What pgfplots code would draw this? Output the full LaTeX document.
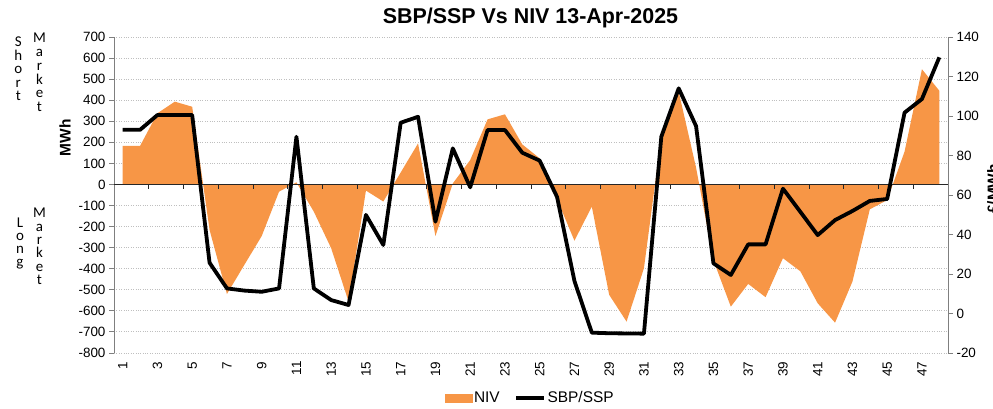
\documentclass[border=0pt]{standalone}
\usepackage{fontspec}
\setmainfont{Liberation Sans}
\newfontfamily\calfont{Carlito}
\usepackage{pgfplots}
\pgfplotsset{compat=1.18}
\definecolor{niv}{HTML}{F79646}
\definecolor{gridc}{HTML}{BFBFBF}
\definecolor{axc}{HTML}{7F7F7F}
\begin{document}
\begin{tikzpicture}[x=1bp,y=1bp]
\pgfplotsset{
  common/.style={
    scale only axis, width=834bp, height=316bp,
    at={(114bp,56bp)}, anchor=south west,
    xmin=0.5, xmax=48.5,
    tick align=outside, major tick length=5bp,
    /pgf/number format/assume math mode=true,
    ticklabel style={font=\fontsize{13.5}{15}\selectfont},
  }
}
\begin{axis}[common,
  ymin=-800, ymax=700,
  ytick={-800,-700,...,700},
  xtick={1,3,...,47},
  axis y line*=left,
  axis x line*=bottom,
  x axis line style={draw=none},
  xtick style={draw=none},
  xticklabel style={rotate=90, anchor=east},
  ymajorgrids, major grid style={gridc, dotted, line width=0.9bp},
  y axis line style={axc, line width=0.9bp},
  ytick style={axc, line width=0.9bp},
]
\addplot[fill=niv, draw=none] coordinates {
(1,0) (1,183) (2,183) (3,338) (4,393) (5,369) (6,-216) (7,-520) (8,-382)
(9,-245) (10,-34) (11,10) (12,-129) (13,-303) (14,-556) (15,-29) (16,-81)
(17,57) (18,195) (19,-245) (20,5) (21,116) (22,309) (23,333) (24,190)
(25,124) (26,-70) (27,-267) (28,-105) (29,-524) (30,-651) (31,-398) (32,227)
(33,440) (34,80) (35,-360) (36,-580) (37,-472) (38,-535) (39,-350) (40,-412)
(41,-564) (42,-656) (43,-461) (44,-118) (45,-74) (46,156) (47,547) (48,445) (48,0)
};
\draw[black!85, line width=0.9bp] (axis cs:0.5,0) -- (axis cs:48.5,0);
\pgfplotsinvokeforeach{2.5,4.5,...,46.5}{\draw[black!85, line width=0.9bp] (axis cs:#1,0) -- ([yshift=-5bp]axis cs:#1,0);}
\end{axis}
\begin{axis}[common,
  ymin=-20, ymax=140,
  ytick={-20,0,...,140},
  axis y line*=right,
  axis x line=none,
  y axis line style={axc, line width=0.9bp},
  ytick style={axc, line width=0.9bp},
  legend style={draw=none, fill=none, at={(0.499,-0.142)}, anchor=center,
    font=\fontsize{15.5}{17}\selectfont, legend columns=2,
    nodes={inner sep=1.5bp},
    /tikz/every odd column/.append style={column sep=0bp},
    /tikz/every even column/.append style={column sep=13bp}},
]
\addlegendimage{legend image code/.code={\fill[niv] (0bp,-4bp) rectangle (27bp,4bp);}}
\addlegendentry{NIV}
\addplot[black, line width=3.8bp, line join=round,
  legend image code/.code={\draw[black, line width=3.8bp] (0bp,0bp) -- (28bp,0bp);}] coordinates {
(1,93) (2,93) (3,100.5) (4,100.5) (5,100.5) (6,25.7) (7,12.7) (8,11.6)
(9,11.0) (10,12.7) (11,89.5) (12,12.7) (13,6.8) (14,4.3) (15,49.9) (16,34.7)
(17,96.6) (18,99.6) (19,46.5) (20,83.6) (21,63.9) (22,92.9) (23,92.9) (24,81.4)
(25,77.4) (26,59) (27,16.5) (28,-9.7) (29,-10) (30,-10.1) (31,-10.2) (32,89.5)
(33,114) (34,94.9) (35,25.4) (36,19.5) (37,35) (38,35) (39,63.2) (40,51.5)
(41,39.7) (42,47.3) (43,51.9) (44,57) (45,58) (46,101.7) (47,108.6) (48,129.7)
};
\addlegendentry{SBP/SSP}
\end{axis}
% titles
\node[font=\bfseries\fontsize{21.5}{24}\selectfont] at (530.5bp,391.5bp) {SBP/SSP Vs NIV 13-Apr-2025};
\node[rotate=90, font=\bfseries\fontsize{15.5}{18}\selectfont] at (65bp,271bp) {MWh};
\node[rotate=90, anchor=north, inner sep=0pt, font=\bfseries\fontsize{15.5}{18}\selectfont] at (987bp,220bp) {£/MWh};
% side texts
\begin{scope}[every node/.style={font=\calfont\fontsize{15}{15}\selectfont, anchor=base, inner sep=0pt}]
\node at (18.3bp,{409-46.5}) {S};
\node at (18.3bp,{409-60}) {h};
\node at (18.3bp,{409-73.5}) {o};
\node at (18.3bp,{409-87}) {r};
\node at (18.3bp,{409-100.5}) {t};
\node at (39.5bp,{409-42.5}) {M};
\node at (39.5bp,{409-56.5}) {a};
\node at (39.5bp,{409-70.3}) {r};
\node at (39.5bp,{409-84.1}) {k};
\node at (39.5bp,{409-97.9}) {e};
\node at (39.5bp,{409-111.7}) {t};
\node at (20bp,{409-227.2}) {L};
\node at (20bp,{409-240.4}) {o};
\node at (20bp,{409-253.6}) {n};
\node at (20bp,{409-266.8}) {g};
\node at (39.5bp,{409-217.8}) {M};
\node at (39.5bp,{409-231.1}) {a};
\node at (39.5bp,{409-244.4}) {r};
\node at (39.5bp,{409-257.7}) {k};
\node at (39.5bp,{409-271}) {e};
\node at (39.5bp,{409-284.3}) {t};
\end{scope}
\pgfresetboundingbox
\useasboundingbox (0bp,0bp) rectangle (993bp,409bp);
\end{tikzpicture}
\end{document}
